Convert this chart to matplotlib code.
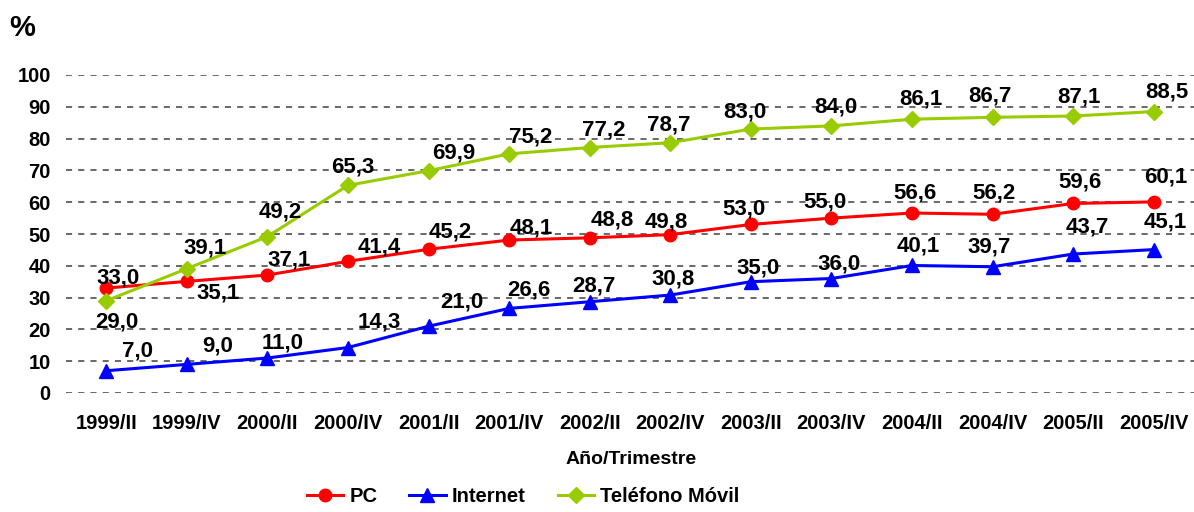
import matplotlib.pyplot as plt
import numpy as np

plt.rcParams['font.family'] = ['Liberation Sans', 'DejaVu Sans']
plt.rcParams['font.weight'] = 'bold'

periodos = ['1999/II', '1999/IV', '2000/II', '2000/IV', '2001/II', '2001/IV', '2002/II',
            '2002/IV', '2003/II', '2003/IV', '2004/II', '2004/IV', '2005/II', '2005/IV']
pc = [33.0, 35.1, 37.1, 41.4, 45.2, 48.1, 48.8, 49.8, 53.0, 55.0, 56.6, 56.2, 59.6, 60.1]
internet = [7.0, 9.0, 11.0, 14.3, 21.0, 26.6, 28.7, 30.8, 35.0, 36.0, 40.1, 39.7, 43.7, 45.1]
movil = [29.0, 39.1, 49.2, 65.3, 69.9, 75.2, 77.2, 78.7, 83.0, 84.0, 86.1, 86.7, 87.1, 88.5]

# label offsets in pixels (dx, dy up)
off_pc = [(12, 10), (31, -12), (22, 15), (31, 14), (22, 17), (22, 12), (23, 18),
          (-4, 13), (-7, 15), (-6, 16), (3, 20), (1, 21), (7, 21), (12, 25)]
off_int = [(31, 20), (31, 18), (15, 15), (31, 26), (33, 24), (20, 18), (4, 16),
           (3, 16), (7, 14), (8, 15), (6, 19), (-3, 20), (14, 27), (12, 28)]
off_mov = [(11, -21), (18, 21), (13, 25), (5, 18), (25, 18), (22, 17), (14, 18),
           (-2, 18), (-6, 17), (4, 19), (9, 20), (-3, 21), (6, 19), (13, 20)]

fig = plt.figure(figsize=(11.94, 5.12), dpi=100)
ax = fig.add_axes([66/1194, 1-393/512, 1-66/1194, (393-75)/512])

x = np.arange(len(periodos))
series = [(pc, 'PC', '#FF0000', 'o', 9, off_pc),
          (internet, 'Internet', '#0000FF', '^', 10, off_int),
          (movil, 'Teléfono Móvil', '#99CC00', 'D', 8, off_mov)]

for vals, name, col, mk, ms, offs in series:
    ax.plot(x, vals, color=col, lw=2.2, marker=mk, markersize=ms, label=name,
            clip_on=False, zorder=3)
    for xi, v, (dx, dy) in zip(x, vals, offs):
        ax.annotate(f'{v:.1f}'.replace('.', ','), (xi, v), xytext=(dx*0.72, dy*0.72),
                    textcoords='offset points', ha='center', va='center',
                    fontsize=16, fontweight='bold', zorder=4)

ax.set_xlim(-0.5, 13.5)
ax.set_ylim(0, 100)
ax.set_yticks(range(0, 101, 10))
ax.set_xticks(x)
ax.set_xticklabels(periodos)
ax.tick_params(length=0, labelsize=14.5)
ax.tick_params(axis='y', pad=11)
ax.tick_params(axis='x', pad=15)
ax.yaxis.grid(True, color='#404040', lw=1.1, linestyle=(0, (4, 4)))
for s in ax.spines.values():
    s.set_visible(False)

fig.text(22/1194, 1-28/512, '%', fontsize=21, fontweight='bold', ha='center', va='center')
fig.text(631/1194, 1-460/512, 'Año/Trimestre', fontsize=14, fontweight='bold',
         ha='center', va='center')
fig.legend(loc='center', bbox_to_anchor=(523/1194, 1-497/512), ncol=3, frameon=False,
           handlelength=1.8, handletextpad=0.3, columnspacing=1.6,
           prop={'weight': 'bold', 'size': 14.5})

fig.savefig('out.png', dpi=100)
